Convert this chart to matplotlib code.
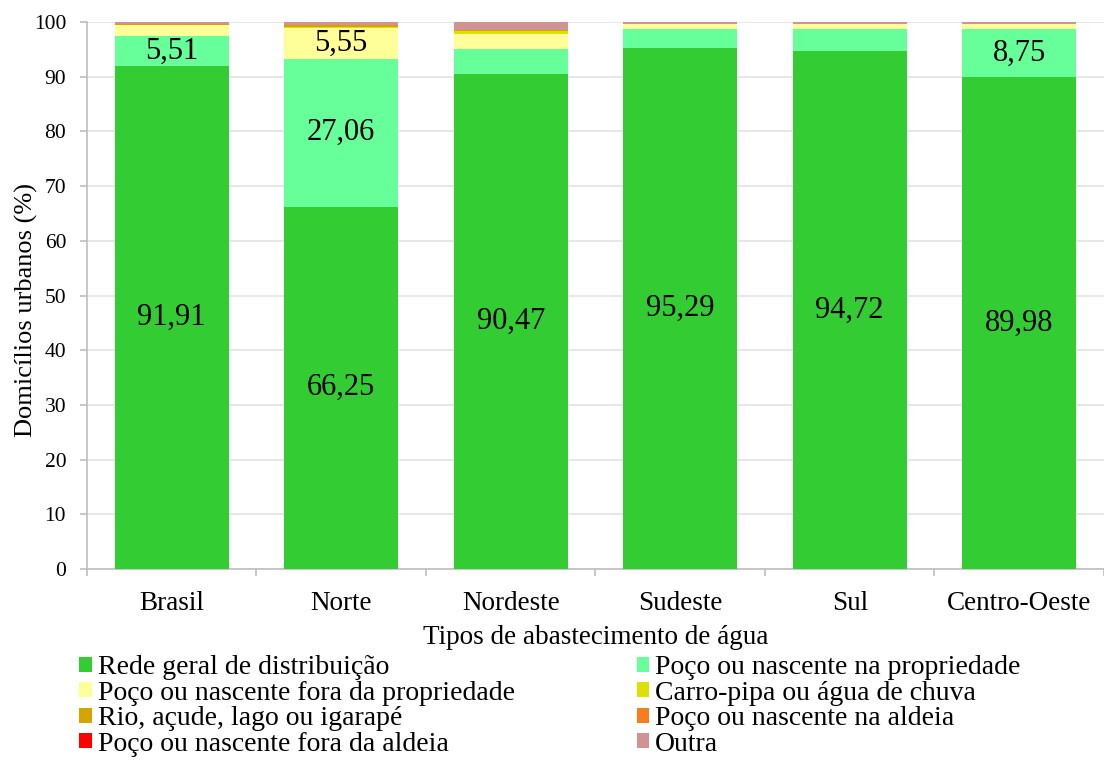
import numpy as np
import matplotlib.pyplot as plt

plt.rcParams['font.family'] = ['Liberation Serif', 'DejaVu Serif']

regioes = ['Brasil', 'Norte', 'Nordeste', 'Sudeste', 'Sul', 'Centro-Oeste']
tipos = ['Rede geral de distribuição', 'Poço ou nascente na propriedade',
         'Poço ou nascente fora da propriedade', 'Carro-pipa ou água de chuva',
         'Rio, açude, lago ou igarapé', 'Poço ou nascente na aldeia',
         'Poço ou nascente fora da aldeia', 'Outra']
cores = ['#33CC33', '#66FF99', '#FFFF99', '#E0E000',
         '#D4A500', '#F57F20', '#FF0000', '#D09393']

rede = [91.91, 66.25, 90.47, 95.29, 94.72, 89.98]
poco_prop = [5.51, 27.06, 4.55, 3.40, 4.06, 8.75]
poco_fora_prop = [1.95, 5.55, 2.75, 0.90, 0.80, 0.90]
carro_pipa = [0.15, 0.20, 0.60, 0.05, 0.05, 0.05]
rio = [0.10, 0.35, 0.20, 0.06, 0.05, 0.05]
poco_aldeia = [0.02, 0.05, 0.03, 0.00, 0.00, 0.00]
poco_fora_aldeia = [0.01, 0.02, 0.00, 0.00, 0.00, 0.00]
outra = [0.39, 0.52, 1.40, 0.30, 0.32, 0.27]
series = [rede, poco_prop, poco_fora_prop, carro_pipa, rio,
          poco_aldeia, poco_fora_aldeia, outra]

# which segments carry a value label
rotulos = {0: ['91,91', '66,25', '90,47', '95,29', '94,72', '89,98'],
           1: ['5,51', '27,06', '', '', '', '8,75'],
           2: ['', '5,55', '', '', '', '']}

corEixo = '#BFBFBF'

fig = plt.figure(figsize=(11.04, 7.6), dpi=100)
ax = fig.add_axes([0.0788, 0.2513, 0.9212, 0.7197])

x = np.arange(len(regioes))
bottom = np.zeros(len(regioes))
handles = []
for i, (vals, cor) in enumerate(zip(series, cores)):
    bars = ax.bar(x, vals, 0.67, bottom=bottom, color=cor, zorder=3,
                  label=tipos[i])
    handles.append(bars)
    if i in rotulos:
        ax.bar_label(bars, labels=rotulos[i], label_type='center',
                     fontsize=22)
    bottom += np.array(vals)

ax.set_ylim(0, 100)
ax.set_xlim(-0.5, 5.465)
ax.set_yticks(np.arange(0, 101, 10))
ax.yaxis.grid(True, color='#E3E3E3', lw=1.2, zorder=0)
ax.set_xticks(x)
ax.set_xticklabels(regioes, fontsize=19.5)
ax.set_xticks(np.arange(-0.5, 5.6, 1), minor=True)
ax.tick_params(axis='x', which='major', length=0, pad=16)
ax.tick_params(axis='x', which='minor', length=5, color=corEixo, width=1.2)
ax.tick_params(axis='y', labelsize=15.5, length=5, color=corEixo,
               width=1.2, pad=10)
for s in ['top', 'right']:
    ax.spines[s].set_visible(False)
for s in ['left', 'bottom']:
    ax.spines[s].set_color(corEixo)
    ax.spines[s].set_linewidth(1.2)

ax.set_ylabel('Domicílios urbanos (%)', fontsize=19)
ax.yaxis.set_label_coords(-0.048, 0.4735)
ax.set_xlabel('Tipos de abastecimento de água', fontsize=19.5, labelpad=6.5)

# legend: row-major order as in the original
ordem = [0, 2, 4, 6, 1, 3, 5, 7]
fig.legend([handles[k] for k in ordem], [tipos[k] for k in ordem],
           ncol=2, loc='upper left', bbox_to_anchor=(0.072, 0.138),
           frameon=False, fontsize=20, handlelength=0.45, handleheight=0.45,
           handletextpad=0.2, columnspacing=4.4, labelspacing=0.02,
           borderaxespad=0, borderpad=0)

fig.savefig('out.png', dpi=100)
